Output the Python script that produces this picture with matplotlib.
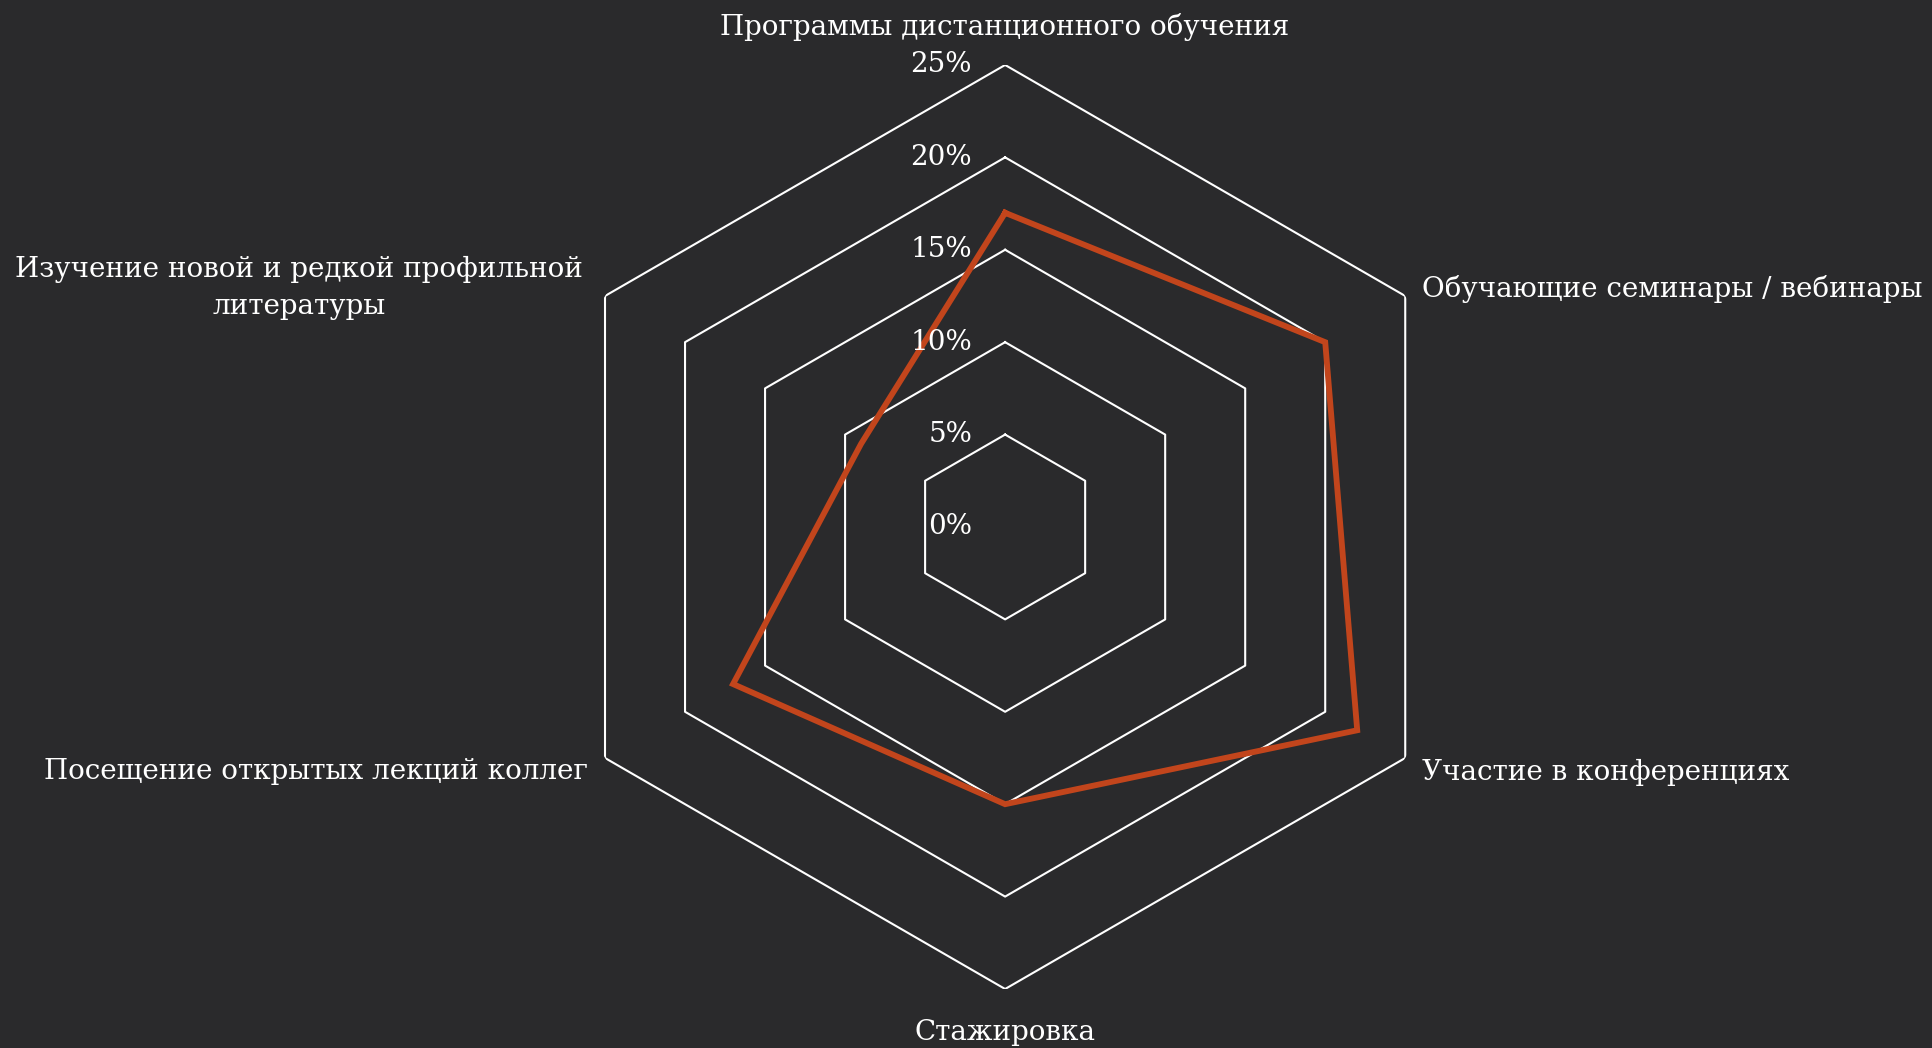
import matplotlib
matplotlib.use("Agg")
import matplotlib.pyplot as plt
import numpy as np

# categories clockwise from the top
categories = [
    "Программы дистанционного обучения",
    "Обучающие семинары / вебинары",
    "Участие в конференциях",
    "Стажировка",
    "Посещение открытых лекций коллег",
    "Изучение новой и редкой профильной\nлитературы",
]
values = [17, 20, 22, 15, 17, 9]  # percent
rticks = [0, 5, 10, 15, 20, 25]
rtick_labels = ["0%", "5%", "10%", "15%", "20%", "25%"]

bg = "#2a2a2c"
line_color = "#c2451c"
plt.rcParams["font.family"] = ["DejaVu Serif"]

fig = plt.figure(figsize=(19.32, 10.48), dpi=100, facecolor=bg)
ax = fig.add_axes([0.2811, 0.0563, 0.4783, 0.8817], projection="polar")
ax.set_facecolor("none")
ax.set_theta_zero_location("N")
ax.set_theta_direction(-1)
ax.set_ylim(0, rticks[-1])
ax.spines["polar"].set_visible(False)
ax.grid(False)
ax.set_xticks([])
ax.set_yticks([])

n = len(categories)
theta = np.arange(n) * 2 * np.pi / n
theta_c = np.append(theta, theta[0])

# hexagon grid
for r in rticks[1:]:
    ax.plot(theta_c, [r] * (n + 1), color="white", lw=1.5, zorder=1)

# data line
ax.plot(theta_c, values + values[:1], color=line_color, lw=4.2, zorder=3,
        solid_joinstyle="miter")

# radial tick labels on the top spoke
for r, lab in zip(rticks, rtick_labels):
    ax.annotate(lab, xy=(0, r), xytext=(-33, 0), textcoords="offset pixels",
                ha="right", va="center", color="white", fontsize=20)

# category labels around the outer hexagon
offsets = [
    ((0, 38), "center", "center"),
    ((17, 7), "left", "center"),
    ((17, -14), "left", "center"),
    ((0, -44), "center", "center"),
    ((-17, -14), "right", "center"),
    ((-22, 8), "right", "center"),
]
for t, lab, (off, ha, va) in zip(theta, categories, offsets):
    ax.annotate(lab, xy=(t, rticks[-1]), xytext=off, textcoords="offset pixels",
                ha=ha, va=va, color="white", fontsize=20, multialignment="center",
                linespacing=1.45, annotation_clip=False)

fig.savefig("out.png", dpi=100, facecolor=bg)
